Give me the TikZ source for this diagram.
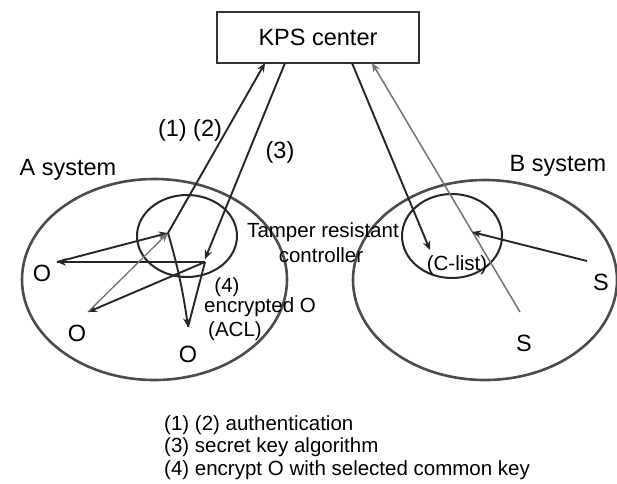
\documentclass[tikz,border=0pt]{standalone}
\usepackage{fontspec}
\setmainfont{Liberation Sans}
\usetikzlibrary{arrows.meta,shapes.geometric}
\begin{document}
\begin{tikzpicture}[x=1pt,y=-1pt,
  sys/.style={ellipse, draw=black!70, line width=2.6pt, inner sep=0pt},
  ctl/.style={ellipse, draw=black!85, line width=2pt, inner sep=0pt},
  tip/.style={-{Stealth[length=9pt,width=7.5pt,fill=black!45]}},
  conn/.style={draw=black!85, line width=1.9pt, tip},
  plain/.style={draw=black!85, line width=1.9pt},
  faint/.style={draw=black!55, line width=1.3pt},
  big/.style={font=\fontsize{23.5}{26}\selectfont, inner sep=0pt},
  note/.style={font=\fontsize{20.5}{23}\selectfont, inner sep=0pt}]
\useasboundingbox (0,0) rectangle (617,483);
% KPS box
\node[draw=black!80, line width=2.2pt, minimum width=202pt, minimum height=51pt, big] (kps) at (318,37.5) {KPS center};
% systems
\node[sys, minimum width=265pt, minimum height=201pt] (asys) at (154.5,279.5) {};
\node[sys, minimum width=264pt, minimum height=200pt] (bsys) at (485,280) {};
\node[ctl, minimum width=100pt, minimum height=82pt] (actl) at (187,236) {};
\node[ctl, minimum width=100pt, minimum height=84pt] (bctl) at (452,236) {};
% labels
\node[big] (alabel) at (68,170) {A system};
\node[big] (blabel) at (558,166) {B system};
\node[big] (o1) at (42,273) {O};
\node[big] (o2) at (77,333) {O};
\node[big] (o3) at (188,354) {O};
\node[big] (s1) at (601,282) {S};
\node[big] (s2) at (524,343) {S};
\node[big] (l12) at (190,130) {(1) (2)};
\node[big] (l3) at (280,152) {(3)};
\node[note] (tamper) at (323,232) {Tamper resistant};
\node[note] (ctrl) at (321,255) {controller};
\node[note] (l4) at (227,287) {(4)};
\node[note, anchor=west] (enc) at (204,307) {encrypted O};
\node[note, anchor=west] (acl) at (208,331) {(ACL)};
\node[note] (clist) at (457,265) {(C-list)};
% legend
\node[note, anchor=west] (leg1) at (164,425) {(1) (2) authentication};
\node[note, anchor=west] (leg2) at (164,447) {(3) secret key algorithm};
\node[note, anchor=west] (leg3) at (164,470) {(4) encrypt O with selected common key};
% points
\coordinate (k1) at (265,63);
\coordinate (k2) at (285,63);
\coordinate (k3) at (352,63);
\coordinate (k4) at (372,63);
\coordinate (c) at (168,233);
\coordinate (q) at (205,259);
\coordinate (qh) at (205,262);
\coordinate (p1) at (57,262);
\coordinate (p2) at (88,312);
\coordinate (p3) at (188,327);
\coordinate (cl) at (430,250);
\coordinate (bc) at (472,232);
\coordinate (sb) at (520,312);
\coordinate (sr) at (587,261);
% A connectors
\draw[conn] (c) -- (k1);
\draw[conn] (k2) -- (q);
\draw[conn] (p1) -- (c);
\draw[conn] (qh) -- (p1);
\draw[conn] (qh) -- (p2);
\draw[faint, tip] (p2) -- (c);
\draw[conn] (c) .. controls (176,260) and (183,290) .. (p3);
\draw[plain] (p3) -- (qh);
% B connectors
\draw[conn] (k3) -- (cl);
\draw[faint, line width=1.5pt, tip] (sb) -- (k4);
\draw[conn] (sr) -- (bc);
\end{tikzpicture}
\end{document}
